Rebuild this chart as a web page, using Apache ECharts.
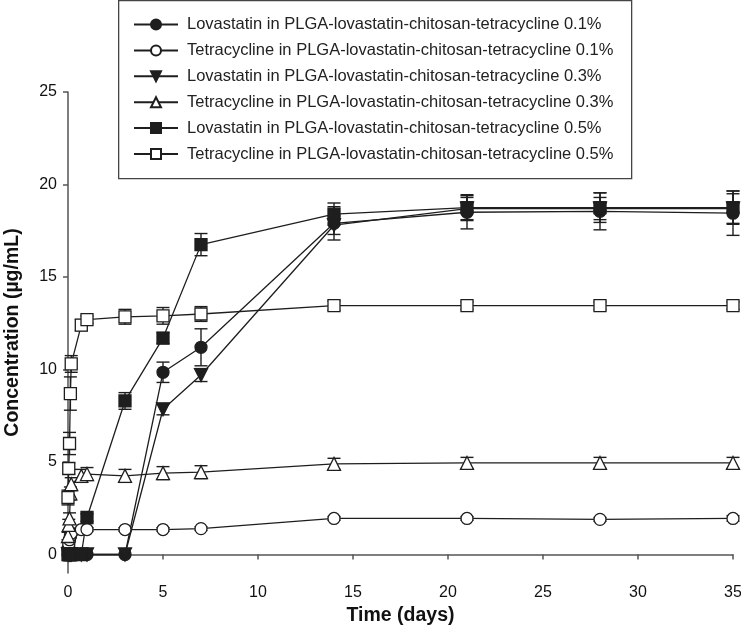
<!DOCTYPE html>
<html>
<head>
<meta charset="utf-8">
<script src="https://cdn.jsdelivr.net/npm/echarts@6/dist/echarts.min.js"></script>
<style>html,body{margin:0;padding:0;background:#fff;}#c{width:741px;height:630px;}</style>
</head>
<body>
<div id="c"></div>
<script>
// Time points (days)
const days = [0, 0.04, 0.08, 0.125, 0.17, 0.7, 1, 3, 5, 7, 14, 21, 28, 35];

// Series names
const names = [
  'Lovastatin in PLGA-lovastatin-chitosan-tetracycline 0.1%',
  'Tetracycline in PLGA-lovastatin-chitosan-tetracycline 0.1%',
  'Lovastatin in PLGA-lovastatin-chitosan-tetracycline 0.3%',
  'Tetracycline in PLGA-lovastatin-chitosan-tetracycline 0.3%',
  'Lovastatin in PLGA-lovastatin-chitosan-tetracycline 0.5%',
  'Tetracycline in PLGA-lovastatin-chitosan-tetracycline 0.5%'
];

// Mean concentrations (µg/mL)
const lov01 = [0, 0, 0, 0, 0, 0, 0, 0, 9.85, 11.2, 17.9, 18.5, 18.55, 18.45];
const tet01 = [0.3, 0.55, 0.8, 1.0, 1.15, 1.35, 1.35, 1.35, 1.35, 1.4, 1.95, 1.95, 1.9, 1.95];
const lov03 = [0, 0, 0, 0, 0, 0, 0, 0, 7.85, 9.7, 17.8, 18.7, 18.7, 18.7];
const tet03 = [1.0, 1.6, 1.95, 3.3, 3.8, 4.25, 4.35, 4.25, 4.4, 4.45, 4.9, 4.95, 4.95, 4.95];
const lov05 = [0, 0, 0, 0, 0, 0, 2.0, 8.3, 11.7, 16.75, 18.4, 18.75, 18.75, 18.75];
const tet05 = [3.08, 4.65, 6.0, 8.7, 10.3, 12.4, 12.7, 12.85, 12.9, 13.0, 13.45, 13.45, 13.45, 13.45];

// Error (± SD)
const lov01Err = [0, 0, 0, 0, 0, 0, 0, 0, 0.55, 1.0, 0.9, 0.9, 1.0, 1.2];
const tet01Err = [0.1, 0.1, 0.1, 0.1, 0.1, 0.1, 0.1, 0.1, 0.1, 0.1, 0.1, 0.1, 0.1, 0.15];
const lov03Err = [0, 0, 0, 0, 0, 0, 0, 0, 0.3, 0.35, 0.5, 0.6, 0.6, 0.8];
const tet03Err = [0.2, 0.3, 0.3, 0.35, 0.35, 0.35, 0.35, 0.35, 0.35, 0.35, 0.3, 0.3, 0.3, 0.3];
const lov05Err = [0, 0, 0, 0, 0, 0, 0.2, 0.45, 0.3, 0.6, 0.6, 0.7, 0.8, 0.9];
const tet05Err = [0.4, 0.3, 0.6, 0.9, 0.45, 0.3, 0.2, 0.4, 0.45, 0.4, 0.25, 0.2, 0.2, 0.2];

// Axis ticks
const xTicks = [0, 5, 10, 15, 20, 25, 30, 35];
const yTicks = [0, 5, 10, 15, 20, 25];

const means = [lov01, tet01, lov03, tet03, lov05, tet05];
const errs = [lov01Err, tet01Err, lov03Err, tet03Err, lov05Err, tet05Err];
const symbols = ['circle', 'circle', 'triangle', 'triangle', 'rect', 'rect'];
const rotates = [0, 0, 180, 0, 0, 0];
const filled = [true, false, true, false, true, false];
const sizes = [12, 12, 13, 13, 12, 12];

const INK = '#1e1e1e';
const FONT = '"Liberation Sans", Arial, Helvetica, sans-serif';

function errRender(params, api) {
  const x = api.value(0), y = api.value(1), e = api.value(2);
  if (!e) return null;
  const t = api.coord([x, y + e]);
  const b = api.coord([x, y - e]);
  const hw = 6.5;
  const st = { stroke: INK, lineWidth: 1.4 };
  return {
    type: 'group',
    children: [
      { type: 'line', shape: { x1: t[0], y1: t[1], x2: b[0], y2: b[1] }, style: st },
      { type: 'line', shape: { x1: t[0] - hw, y1: t[1], x2: t[0] + hw, y2: t[1] }, style: st },
      { type: 'line', shape: { x1: b[0] - hw, y1: b[1], x2: b[0] + hw, y2: b[1] }, style: st }
    ]
  };
}

const series = [];
means.forEach((vals, k) => {
  series.push({
    type: 'custom',
    name: names[k] + ' err',
    renderItem: errRender,
    data: days.map((d, i) => [d, vals[i], errs[k][i]]),
    z: 2,
    silent: true
  });
});
means.forEach((vals, k) => {
  series.push({
    type: 'line',
    name: names[k],
    data: days.map((d, i) => [d, vals[i]]),
    symbol: symbols[k],
    symbolSize: sizes[k],
    symbolRotate: rotates[k],
    showAllSymbol: true,
    lineStyle: { color: INK, width: 1.3 },
    itemStyle: { color: filled[k] ? INK : '#ffffff', borderColor: INK, borderWidth: 1.3 },
    z: 3,
    animation: false
  });
});

const chart = echarts.init(document.getElementById('c'), null, { renderer: 'canvas' });
chart.setOption({
  animation: false,
  backgroundColor: '#ffffff',
  textStyle: { fontFamily: FONT },
  grid: { left: 68, right: 8, top: 92, bottom: 57, containLabel: false, outerBoundsMode: 'none' },
  graphic: [{
    type: 'rect', z: 5, left: 118, top: 0,
    shape: { x: 0, y: 0, width: 513, height: 178 },
    style: { fill: '#ffffff', stroke: '#444', lineWidth: 1.3 }
  }],
  legend: {
    z: 10,
    orient: 'vertical',
    left: 133, top: 16,
    padding: 0,
    itemWidth: 44, itemHeight: 12.5, itemGap: 8.9,
    data: names,
    textStyle: { fontSize: 16.5, fontFamily: FONT, color: '#222', padding: [0, 0, 0, 4] },
    selectedMode: false
  },
  xAxis: {
    type: 'value', min: 0, max: 35, interval: 5,
    name: 'Time (days)', nameLocation: 'middle', nameGap: 32,
    nameTextStyle: { fontSize: 19.5, fontWeight: 'bold', color: '#111', fontFamily: FONT },
    axisLine: { lineStyle: { color: '#555', width: 1.5 } },
    axisTick: { show: true, length: 5, lineStyle: { color: '#555', width: 1.5 } },
    axisLabel: { fontSize: 16, color: '#111', margin: 12, fontFamily: FONT },
    splitLine: { show: false }
  },
  yAxis: {
    type: 'value', min: -1, max: 25,
    name: 'Concentration (µg/mL)', nameLocation: 'middle', nameGap: 45,
    nameTextStyle: { fontSize: 19.5, fontWeight: 'bold', color: '#111', fontFamily: FONT },
    axisLine: { show: true, lineStyle: { color: '#555', width: 1.5 } },
    axisTick: { show: true, length: 5, customValues: yTicks, lineStyle: { color: '#555', width: 1.5 } },
    axisLabel: { fontSize: 16, color: '#111', margin: 11, customValues: yTicks, fontFamily: FONT },
    splitLine: { show: false }
  },
  series: series
});
</script>
</body>
</html>
